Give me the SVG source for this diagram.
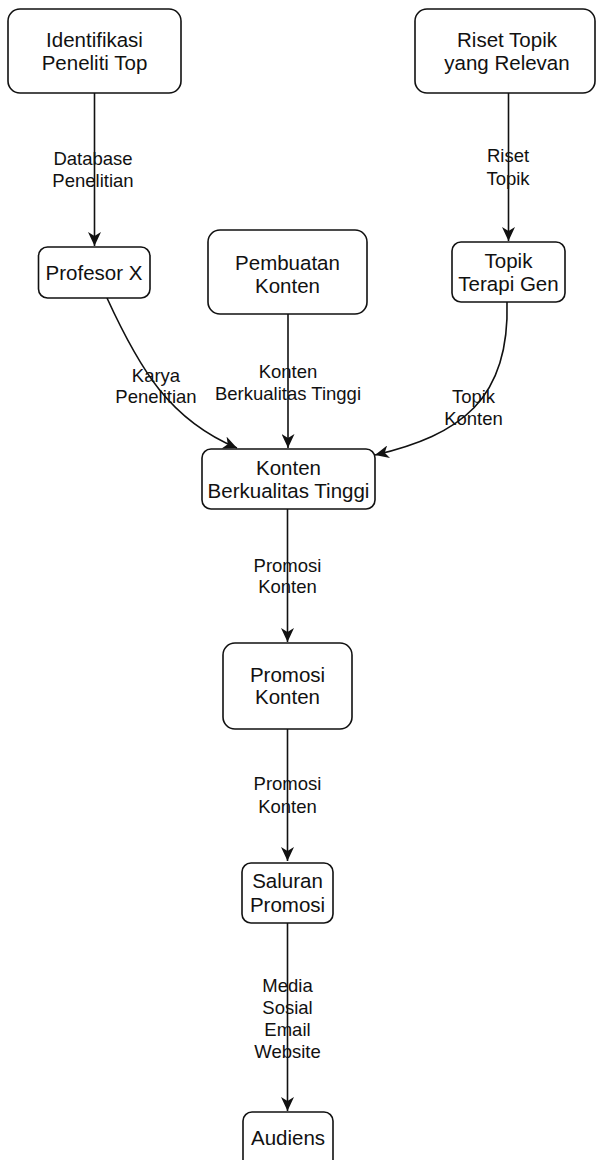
<svg xmlns="http://www.w3.org/2000/svg" width="596" height="1160" viewBox="0 0 596 1160">
  <style>
    .node rect { fill: #ffffff; stroke: #111111; stroke-width: 1.6; }
    .node text { font-family: "Liberation Sans", Arial, sans-serif; font-size: 20.5px; fill: #111111; text-anchor: middle; }
    .edge { fill: none; stroke: #111111; stroke-width: 1.6; marker-end: url(#arrow); }
    .label { font-family: "Liberation Sans", Arial, sans-serif; font-size: 18.5px; fill: #111111; text-anchor: middle; }
  </style>
  <defs>
    <marker id="arrow" markerUnits="userSpaceOnUse" viewBox="0 0 14 13" markerWidth="14" markerHeight="13" refX="14" refY="6.5" orient="auto">
      <path d="M0,0 L14,6.5 L0,13 L4,6.5 Z" fill="#111111"/>
    </marker>
  </defs>
  <rect width="596" height="1160" fill="#ffffff"/>

  <!-- connectors -->
  <g id="connectors">
    <path class="edge" d="M94.5,93 V246"/>
    <path class="edge" d="M508.5,93 V241"/>
    <path class="edge" d="M107,298 C140,370 170,420 237,448"/>
    <path class="edge" d="M288,314 V448"/>
    <path class="edge" d="M507,302 C510,400 460,435 375,455"/>
    <path class="edge" d="M287.5,509 V642"/>
    <path class="edge" d="M287.5,729 V861"/>
    <path class="edge" d="M287.5,923 V1111"/>

    <text class="label" x="93" y="165">Database</text>
    <text class="label" x="93" y="187">Penelitian</text>
    <text class="label" x="508" y="162">Riset</text>
    <text class="label" x="508" y="185">Topik</text>
    <text class="label" x="156" y="382">Karya</text>
    <text class="label" x="156" y="403">Penelitian</text>
    <text class="label" x="288" y="378">Konten</text>
    <text class="label" x="288" y="400">Berkualitas Tinggi</text>
    <text class="label" x="473.5" y="403">Topik</text>
    <text class="label" x="473.5" y="425">Konten</text>
    <text class="label" x="287.5" y="572">Promosi</text>
    <text class="label" x="287.5" y="593">Konten</text>
    <text class="label" x="287.5" y="790">Promosi</text>
    <text class="label" x="287.5" y="813">Konten</text>
    <text class="label" x="287.5" y="992">Media</text>
    <text class="label" x="287.5" y="1014">Sosial</text>
    <text class="label" x="287.5" y="1036">Email</text>
    <text class="label" x="287.5" y="1058">Website</text>
  </g>

  <!-- nodes -->
  <g id="identifikasi" class="node">
    <rect x="8" y="9" width="173" height="84" rx="12"/>
    <text x="94.5" y="47">Identifikasi</text>
    <text x="94.5" y="70">Peneliti Top</text>
  </g>
  <g id="riset-topik" class="node">
    <rect x="415" y="9" width="180" height="84" rx="12"/>
    <text x="507" y="47">Riset Topik</text>
    <text x="507" y="70">yang Relevan</text>
  </g>
  <g id="profesor-x" class="node">
    <rect x="38.5" y="247" width="111.5" height="51" rx="9"/>
    <text x="94" y="280">Profesor X</text>
  </g>
  <g id="pembuatan-konten" class="node">
    <rect x="208" y="230" width="159" height="84" rx="12"/>
    <text x="287.5" y="270">Pembuatan</text>
    <text x="287.5" y="293">Konten</text>
  </g>
  <g id="topik-terapi-gen" class="node">
    <rect x="452" y="242" width="113" height="60" rx="9"/>
    <text x="508.5" y="268">Topik</text>
    <text x="508.5" y="291">Terapi Gen</text>
  </g>
  <g id="konten-berkualitas" class="node">
    <rect x="202" y="449" width="173" height="60" rx="9"/>
    <text x="288.5" y="475">Konten</text>
    <text x="288.5" y="498">Berkualitas Tinggi</text>
  </g>
  <g id="promosi-konten" class="node">
    <rect x="223" y="643" width="129" height="86" rx="12"/>
    <text x="287.5" y="682">Promosi</text>
    <text x="287.5" y="704">Konten</text>
  </g>
  <g id="saluran-promosi" class="node">
    <rect x="242" y="863" width="91" height="60" rx="9"/>
    <text x="287.5" y="888">Saluran</text>
    <text x="287.5" y="912">Promosi</text>
  </g>
  <g id="audiens" class="node">
    <rect x="243" y="1112" width="90" height="60" rx="9"/>
    <text x="288" y="1145">Audiens</text>
  </g>
</svg>
